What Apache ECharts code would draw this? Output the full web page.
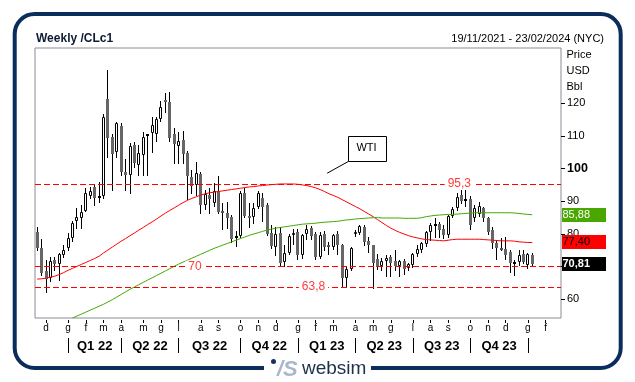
<!DOCTYPE html>
<html><head><meta charset="utf-8">
<script src="https://cdn.jsdelivr.net/npm/echarts@6/dist/echarts.min.js"></script>
<style>html,body{margin:0;padding:0;background:#fff}#c{width:635px;height:382px}</style>
</head><body><div id="c"></div>
<script>
const FONT = "'Liberation Sans', Arial, sans-serif";

// ---------- DATA ----------
const firstWeek = '2021-11-19';
const weekCount = 119; // 19/11/2021 .. 23/02/2024
const categories = [];
(function(){ const d0 = new Date(firstWeek + 'T00:00:00Z');
  for (let k = 0; k < weekCount; k++) { const d = new Date(d0.getTime() + k*7*86400000);
    categories.push(String(d.getUTCDate()).padStart(2,'0') + '/' + String(d.getUTCMonth()+1).padStart(2,'0') + '/' + d.getUTCFullYear()); } })();

const opens = [80.7,75.6,68.8,66.5,72.0,70.7,73.6,75.6,78.7,84.1,84.8,87.1,91.7,94.5,91.2,91.6,121.3,109.6,105.2,113.0,
99.1,98.0,107.2,101.1,104.2,110.2,110.8,110.6,115.1,121.0,120.5,110.6,106.9,108.8,104.8,97.5,95.0,98.3,88.8,91.9,
89.6,93.0,86.9,86.3,85.3,79.0,79.5,92.6,85.5,85.3,88.2,90.9,89.0,80.2,76.0,80.2,71.5,74.1,79.6,80.5,
73.6,80.0,81.9,80.0,73.0,80.0,76.6,76.1,80.0,76.6,66.6,69.3,79.9,80.4,82.2,77.8,76.6,72.5,70.1,71.6,
72.9,71.8,70.2,71.6,69.5,70.6,73.9,75.2,76.8,80.5,82.7,83.0,81.5,79.6,85.6,87.8,91.9,90.3,90.8,84.9,
86.0,87.9,85.0,81.2,77.1,75.6,75.4,74.6,71.0,71.4,73.8,70.5,73.6];
const closes = [75.6,68.0,66.2,71.7,70.7,73.8,75.1,78.7,83.4,85.3,86.6,92.4,93.2,90.9,91.6,115.7,109.3,104.5,113.9,99.1,
98.0,106.9,101.8,104.7,109.8,110.5,113.3,115.1,118.8,120.4,109.3,107.4,108.5,104.5,97.6,94.7,98.6,88.8,92.2,90.6,
93.0,86.8,86.6,84.9,78.4,79.4,92.6,85.6,84.9,87.9,92.4,88.3,80.1,76.2,80.0,71.0,74.3,79.4,80.3,73.6,
79.7,81.4,79.5,73.0,79.7,76.1,76.3,79.7,76.6,66.4,69.4,75.7,80.7,82.4,77.6,76.5,71.2,70.0,71.6,72.7,
71.0,70.2,71.6,69.2,70.7,73.9,75.4,77.1,80.5,82.7,83.1,81.2,79.7,85.6,87.7,91.2,90.2,90.8,82.7,87.8,
88.6,85.0,80.6,77.1,75.6,75.4,73.6,71.0,71.4,73.6,71.4,74.0,70.81];
const lows = [75.2,67.4,62.3,65.5,69.0,66.0,73.0,75.1,78.0,81.7,81.7,86.9,90.9,88.9,89.9,91.0,103.6,93.5,103.5,98.0,
93.5,92.6,100.5,98.0,98.0,98.0,105.2,108.5,114.5,117.2,108.5,101.6,101.6,101.6,90.6,92.5,91.9,86.5,87.5,86.3,
88.6,86.3,81.5,81.7,77.4,76.3,79.0,85.2,82.2,83.3,87.9,84.0,79.8,75.6,73.5,70.1,70.2,73.8,77.0,72.5,
72.8,78.5,78.5,72.5,72.6,75.0,73.8,75.5,74.0,63.9,64.0,69.0,79.5,80.0,76.6,74.6,63.6,69.3,69.0,67.0,
67.0,69.0,67.0,67.9,69.0,69.8,73.2,74.5,76.2,78.2,79.0,79.2,78.9,79.2,85.3,87.3,89.5,88.5,81.6,84.0,
85.5,84.0,80.0,75.8,72.3,75.0,72.5,68.4,67.6,70.5,71.0,69.5,70.2];
const highs = [82.2,78.5,72.0,73.0,73.0,74.2,76.6,80.4,84.0,87.9,88.9,94.0,94.5,95.3,96.0,116.6,130.2,110.5,114.4,114.0,
103.0,107.7,108.0,107.2,111.3,110.7,115.7,115.7,120.8,123.2,123.5,112.3,111.3,111.6,105.5,99.5,102.1,99.0,93.5,94.0,
95.5,97.7,89.5,89.9,85.8,81.0,93.0,94.0,89.4,89.6,93.0,92.4,89.5,82.7,82.0,82.0,76.5,80.0,81.5,81.5,
80.0,82.6,82.5,80.5,80.5,81.0,77.5,80.0,81.0,77.0,70.0,76.1,81.2,82.7,82.7,79.2,76.6,74.0,72.6,73.6,
73.5,75.0,72.0,72.5,71.0,74.2,76.6,77.5,80.8,83.5,85.0,83.8,82.7,85.9,88.3,92.4,94.0,95.3,91.5,88.9,
89.9,88.3,85.3,82.0,78.2,78.7,79.0,75.0,72.0,75.1,75.2,74.3,74.1];

// moving averages (red = short, green = long)
const maRed = [66.2,66.3,66.5,66.8,67.1,67.6,68.2,68.9,69.5,70.1,
70.7,71.3,71.9,72.5,73.2,74.2,75.1,76.0,76.9,77.8,
78.6,79.5,80.3,81.2,82.0,82.9,83.7,84.6,85.5,86.4,
87.2,88.0,88.8,89.6,90.3,90.9,91.4,91.9,92.3,92.6,
92.8,93.0,93.2,93.4,93.6,93.8,94.0,94.2,94.4,94.5,
94.7,94.8,95.0,95.1,95.2,95.3,95.3,95.3,95.3,95.2,
95.0,94.8,94.5,94.1,93.6,93.0,92.3,91.8,91.2,90.5,
89.8,89.1,88.4,87.7,86.9,86.1,85.3,84.4,83.5,82.6,
81.8,81.1,80.5,80.0,79.5,79.1,78.8,78.5,78.3,78.2,
78.1,78.0,77.9,78.1,78.3,78.4,78.4,78.4,78.4,78.4,
78.4,78.3,78.2,78.1,78.0,77.9,77.9,77.9,77.8,77.6,
77.5,77.4,77.40];
const maGreen = [null,null,null,null,null,null,null,null,54.3,54.9,
55.5,56.1,56.7,57.3,57.9,58.5,59.2,59.9,60.7,61.5,
62.3,63.1,63.8,64.5,65.2,65.9,66.6,67.3,68.0,68.7,
69.4,70.1,70.8,71.4,72.0,72.6,73.2,73.8,74.4,75.0,
75.6,76.1,76.6,77.1,77.6,78.1,78.6,79.1,79.6,80.0,
80.4,80.8,81.2,81.5,81.8,82.0,82.2,82.4,82.6,82.8,
83.0,83.1,83.2,83.3,83.5,83.6,83.7,83.8,83.9,84.1,
84.3,84.4,84.6,84.7,84.8,84.9,85.0,85.0,84.9,84.9,
84.9,84.9,84.9,84.8,84.8,84.8,84.8,85.0,85.3,85.5,
85.7,85.8,85.9,86.0,86.0,86.1,86.2,86.3,86.4,86.5,
86.5,86.5,86.5,86.5,86.5,86.5,86.5,86.5,86.4,86.3,
86.1,86.0,85.88];

const levels = [95.3, 70, 63.8];
const levelLabels = ['95,3', '70', '63,8'];
const levelLabelAt = [95.5, 35.7, 62.5];          // week index where the level label sits

const lastValues = [85.88, 77.40, 70.81];           // green MA, red MA, last close
const yTicks = [60, 70, 80, 90, 100, 110, 120];
const monthTickIdx = [2,7,11,15,19,24,28,32,37,41,46,50,54,59,63,67,72,76,80,85,89,93,98,102,106,111,115];
const monthTickLabels = ['d','g','f','m','a','m','g','l','a','s','o','n','d','g','f','m','a','m','g','l','a','s','o','n','d','g','f'];
const quarterStartIdx = [7,19,32,46,59,72,85,98,111];
const quarterLabels = ['Q1 22','Q2 22','Q3 22','Q4 22','Q1 23','Q2 23','Q3 23','Q4 23'];
const calloutText = 'WTI';
const calloutAt = [74.5, 106.2];     // centre of the callout box (week index, price)
const calloutLine = [[65.6, 98.6], [70.4, 102.2]];

// ---------- CHART ----------
const quarterMid = quarterLabels.map((q, k) => (quarterStartIdx[k] + quarterStartIdx[k+1]) / 2);
const candleRows = opens.map((o, i) => [i, o, closes[i], lows[i], highs[i]]);
const monthSet = new Set(monthTickIdx);

const chart = echarts.init(document.getElementById('c'), null, {renderer: 'canvas'});
const option = {
  animation: false,
  backgroundColor: '#fff',
  grid: {left: 35, right: 74, top: 48, bottom: 64, show: true, borderColor: '#8a8a96', borderWidth: 1,
         backgroundColor: 'transparent', containLabel: false, outerBoundsMode: 'none'},
  xAxis: [{
    type: 'category', data: categories, boundaryGap: true, offset: 2,
    axisLine: {show: false, onZero: false},
    axisTick: {show: true, alignWithLabel: true, length: 3, interval: (idx) => monthSet.has(idx), lineStyle: {color: '#000', width: 1}},
    axisLabel: {interval: (idx) => monthSet.has(idx), margin: 3, fontSize: 10, fontFamily: FONT, color: '#000',
      formatter: (v, idx) => monthTickLabels[monthTickIdx.indexOf(idx)] || ''},
    splitLine: {show: false}
  }, {
    type: 'value', min: -0.5, max: weekCount - 0.5, position: 'bottom', offset: 20,
    axisLine: {show: false, onZero: false},
    axisTick: {show: true, customValues: quarterStartIdx, length: 15, lineStyle: {color: '#000', width: 1}},
    axisLabel: {customValues: quarterMid, margin: 2, fontSize: 13, fontWeight: 'bold', fontFamily: FONT, color: '#000',
      formatter: (v) => { const k = quarterMid.indexOf(v); return k >= 0 ? quarterLabels[k] : ''; }},
    splitLine: {show: false}
  }],
  yAxis: {
    type: 'value', position: 'right', min: 54.3, max: 136.9,
    splitLine: {show: false}, axisLine: {show: false, onZero: false},
    axisTick: {show: true, customValues: yTicks, length: 4, lineStyle: {color: '#000', width: 1}},
    axisLabel: {customValues: yTicks, margin: 6, fontSize: 11, fontFamily: FONT, color: '#000',
      formatter: (v) => v === 100 ? '{b|100}' : String(v),
      rich: {b: {fontWeight: 'bold', fontSize: 12.5, fontFamily: FONT, color: '#000'}}}
  },
  series: [{
    type: 'custom', name: 'CLc1', xAxisIndex: 0, yAxisIndex: 0, z: 3, clip: true, silent: true,
    data: candleRows, encode: {x: 0, y: [1, 2, 3, 4]},
    renderItem: (params, api) => {
      const i = api.value(0), o = api.value(1), c = api.value(2), l = api.value(3), h = api.value(4);
      const pO = api.coord([i, o]), pC = api.coord([i, c]), pL = api.coord([i, l]), pH = api.coord([i, h]);
      const cx = Math.round(pO[0] - 0.5);
      const wx = cx + 0.5;
      const yT = Math.round(Math.min(pO[1], pC[1])), yB = Math.round(Math.max(pO[1], pC[1]));
      const ch = [{type: 'line', shape: {x1: wx, y1: Math.round(pH[1]), x2: wx, y2: Math.round(pL[1]) + 1}, style: {stroke: '#000', lineWidth: 1}}];
      if (yB - yT < 2) {
        ch.push({type: 'rect', shape: {x: cx - 1, y: yT, width: 3, height: 2}, style: {fill: c >= o ? '#000' : '#555'}});
      } else if (c >= o) {
        ch.push({type: 'rect', shape: {x: cx - 0.5, y: yT + 0.5, width: 2, height: yB - yT - 1}, style: {fill: '#fff', stroke: '#000', lineWidth: 1}});
      } else {
        ch.push({type: 'rect', shape: {x: cx - 1, y: yT, width: 3, height: yB - yT}, style: {fill: '#666'}});
      }
      return {type: 'group', children: ch};
    }
  }, {
    type: 'line', name: 'MA short', data: maRed, symbol: 'none', z: 4, silent: true, clip: true,
    lineStyle: {color: '#ff0000', width: 1},
    markLine: {silent: true, symbol: ['none', 'none'], label: {show: false}, z: 5,
      lineStyle: {color: '#ff0000', type: [6, 3], width: 1},
      data: levels.map(v => ({yAxis: v}))}
  }, {
    type: 'line', name: 'MA long', data: maGreen, symbol: 'none', z: 4, silent: true, clip: true,
    lineStyle: {color: '#44a800', width: 1}
  }]
};
chart.setOption(option);

// ---------- annotations positioned through the chart's own scales ----------
const X = (i) => chart.convertToPixel({xAxisIndex: 1}, i);
const Y = (v) => chart.convertToPixel({yAxisIndex: 0}, v);
const fmt2 = (v) => v.toFixed(2).replace('.', ',');
const gridRight = X(weekCount - 0.5);

const g = [];
// outer frame
g.push({type: 'rect', z: 1, shape: {x: 14.7, y: 14, width: 606, height: 354, r: 20}, style: {fill: 'none', stroke: '#0b2d5b', lineWidth: 4}});
g.push({type: 'rect', z: 2, shape: {x: 264, y: 362, width: 107, height: 12}, style: {fill: '#fff'}});
g.push({type: 'circle', z: 3, shape: {cx: 273.5, cy: 361.5, r: 2.5}, style: {fill: '#16335f'}});
g.push({type: 'text', z: 3, x: 277, y: 370, style: {text: '/S', font: 'italic bold 22px ' + FONT, fill: '#a8b8cc', verticalAlign: 'middle'}});
g.push({type: 'text', z: 3, x: 302, y: 369, style: {text: 'websim', font: '19px ' + FONT, fill: '#1d2f4a', verticalAlign: 'middle'}});
// header texts
g.push({type: 'text', z: 3, x: 36, y: 39, style: {text: 'Weekly /CLc1', font: 'bold 12px ' + FONT, fill: '#0d1b33', verticalAlign: 'middle'}});
g.push({type: 'text', z: 3, x: 604, y: 38.5, style: {text: '19/11/2021 - 23/02/2024 (NYC)', font: '11px ' + FONT, fill: '#000', align: 'right', verticalAlign: 'middle'}});
['Price', 'USD', 'Bbl'].forEach((t, k) => g.push({type: 'text', z: 3, x: 566.5, y: 55 + 16 * k,
  style: {text: t, font: '11px ' + FONT, fill: '#000', verticalAlign: 'middle'}}));
// right value boxes
const boxStyles = [{bg: '#4aa600', fg: '#ffffff', w: ''}, {bg: '#ff0000', fg: '#000000', w: ''}, {bg: '#000000', fg: '#ffffff', w: 'bold '}];
lastValues.forEach((v, k) => {
  const y = Y(v);
  g.push({type: 'rect', z: 50, shape: {x: gridRight + 1, y: Math.round(y) - 7, width: 44, height: 14}, style: {fill: boxStyles[k].bg}});
  g.push({type: 'text', z: 51, x: gridRight + 1.5, y: Math.round(y), style: {text: fmt2(v), font: boxStyles[k].w + '11px ' + FONT, fill: boxStyles[k].fg, verticalAlign: 'middle'}});
});
// level labels
levels.forEach((v, k) => g.push({type: 'text', z: 40, x: X(levelLabelAt[k]), y: Y(v),
  style: {text: levelLabels[k], font: '12px ' + FONT, fill: '#ff3b3b', align: 'center', verticalAlign: 'middle',
          backgroundColor: '#fff', padding: [0, 3]}}));
// callout
g.push({type: 'line', z: 40, shape: {x1: X(calloutLine[0][0]), y1: Y(calloutLine[0][1]), x2: X(calloutLine[1][0]), y2: Y(calloutLine[1][1])}, style: {stroke: '#000', lineWidth: 1}});
const cX = X(calloutAt[0]), cY = Y(calloutAt[1]);
g.push({type: 'rect', z: 41, shape: {x: Math.round(cX - 19) + 0.5, y: Math.round(cY - 12.5) + 0.5, width: 38, height: 25}, style: {fill: '#fff', stroke: '#000', lineWidth: 1}});
g.push({type: 'text', z: 42, x: cX, y: cY, style: {text: calloutText, font: '11px ' + FONT, fill: '#000', align: 'center', verticalAlign: 'middle'}});

chart.setOption({graphic: {elements: g}});
</script>
</body></html>
